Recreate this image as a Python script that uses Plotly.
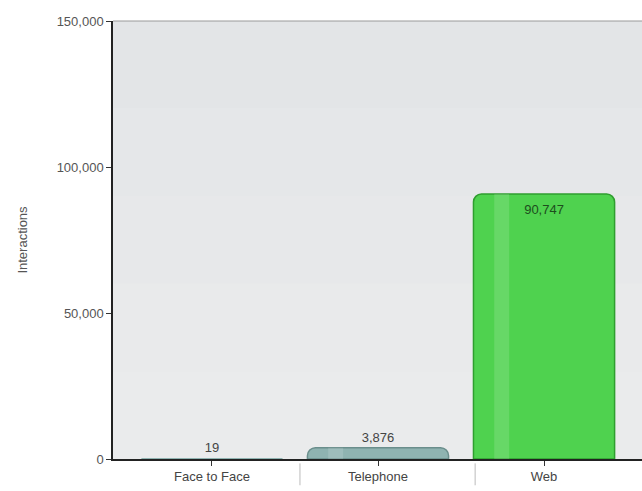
import plotly.graph_objects as go

# Interactions by channel
categories = ["Face to Face", "Telephone", "Web"]
interactions = [19, 3876, 90747]
bar_colors = ["#8fb3b1", "#8fb3b1", "#4fd24f"]
edge_colors = ["#6a8e8c", "#6a8e8c", "#2f9e2f"]
y_ticks = [0, 50000, 100000, 150000]

labels = [f"{v:,}" for v in interactions]

fig = go.Figure()

fig.add_trace(go.Bar(
    x=categories,
    y=interactions,
    width=0.85,
    marker=dict(color=bar_colors,
                line=dict(color=edge_colors, width=[0, 1.5, 1.5]),
                cornerradius=8),
    text=labels,
    textposition=["outside", "outside", "inside"],
    insidetextanchor="end",
    textfont=dict(family="Liberation Sans, Arial, sans-serif", size=13,
                  color=["#444444", "#444444", "#1d4d1d"]),
    cliponaxis=True,
    hoverinfo="skip",
))

# soft highlight stripe on each bar
fig.add_trace(go.Bar(
    x=categories,
    y=interactions,
    width=0.09,
    offset=-0.3,
    marker=dict(color="rgba(255,255,255,0.14)", line=dict(width=0)),
    hoverinfo="skip",
))

shapes = []
# subtle vertical shading of the plotting area
bands = ["#e3e5e7", "#e5e7e9", "#e7e8ea", "#e9eaeb", "#eaebec"]
n = len(bands)
for i, c in enumerate(bands):
    shapes.append(dict(type="rect", xref="paper", yref="paper",
                       x0=0, x1=1, y0=1 - (i + 1) / n, y1=1 - i / n,
                       fillcolor=c, line=dict(width=0), layer="below"))
# top border
shapes.append(dict(type="line", xref="paper", yref="paper", x0=0, x1=1,
                   y0=1, y1=1, line=dict(color="#9a9a9a", width=1)))
# category separators below the axis
for xs in [0.53, 1.585]:
    shapes.append(dict(type="line", xref="x", yref="paper", x0=xs, x1=xs,
                       y0=-0.01, y1=-0.06, line=dict(color="#bbbbbb", width=1)))

fig.update_layout(
    width=642, height=491,
    margin=dict(l=113, r=0, t=21, b=32),
    paper_bgcolor="white",
    plot_bgcolor="#e6e7e9",
    showlegend=False,
    barmode="overlay",
    font=dict(family="Liberation Sans, Arial, sans-serif", size=13, color="#555555"),
    shapes=shapes,
    xaxis=dict(
        range=[-0.596, 2.59],
        showline=True, linecolor="#222222", linewidth=1.5,
        ticks="outside", ticklen=5, tickcolor="#333333",
        showgrid=False, zeroline=False, layer="above traces",
        tickfont=dict(size=13, color="#444444"),
    ),
    yaxis=dict(
        range=[0, 150000],
        tickvals=y_ticks,
        ticktext=[f"{v:,}" for v in y_ticks],
        showline=True, linecolor="#222222", linewidth=1.5,
        ticks="outside", ticklen=5, tickcolor="#333333",
        showgrid=False, zeroline=False, layer="above traces",
        title=dict(text="Interactions", font=dict(size=13, color="#555555"),
                   standoff=26),
        tickfont=dict(size=13, color="#555555"),
    ),
)

fig.write_html("out.html")
